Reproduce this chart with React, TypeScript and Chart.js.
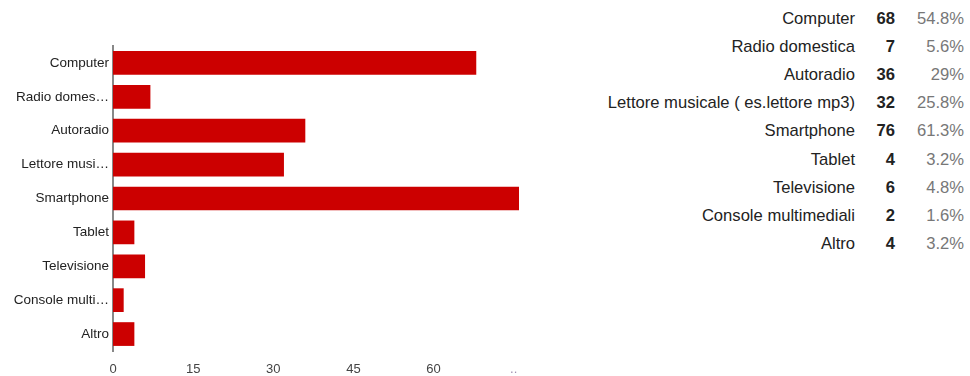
import React, { useEffect, useRef } from "react";
import { Chart, registerables } from "chart.js";

Chart.register(...registerables);

const fullLabels = [
  "Computer",
  "Radio domestica",
  "Autoradio",
  "Lettore musicale ( es.lettore mp3)",
  "Smartphone",
  "Tablet",
  "Televisione",
  "Console multimediali",
  "Altro",
];
const axisLabels = [
  "Computer",
  "Radio domes…",
  "Autoradio",
  "Lettore musi…",
  "Smartphone",
  "Tablet",
  "Televisione",
  "Console multi…",
  "Altro",
];
const counts = [68, 7, 36, 32, 76, 4, 6, 2, 4];
const percents = ["54.8%", "5.6%", "29%", "25.8%", "61.3%", "3.2%", "4.8%", "1.6%", "3.2%"];
const xTickValues = [0, 15, 30, 45, 60, 75];
const xTickLabels = ["0", "15", "30", "45", "60", ".."];

const FONT = "Arial, 'Liberation Sans', sans-serif";

export default function App() {
  const ref = useRef<HTMLCanvasElement>(null);

  useEffect(() => {
    if (!ref.current) return;
    const chart = new Chart(ref.current, {
      type: "bar",
      data: {
        labels: axisLabels,
        datasets: [
          {
            data: counts,
            backgroundColor: "#cc0000",
            borderWidth: 0,
            categoryPercentage: 0.7,
            barPercentage: 1,
          },
        ],
      },
      options: {
        indexAxis: "y",
        animation: false,
        responsive: false,
        maintainAspectRatio: false,
        layout: { padding: { left: 0, right: 21, top: 46, bottom: 0 } },
        plugins: { legend: { display: false }, tooltip: { enabled: false } },
        scales: {
          x: {
            type: "linear",
            min: 0,
            max: 76,
            afterBuildTicks: (scale: any) => {
              scale.ticks = xTickValues.map((v) => ({ value: v }));
            },
            afterFit: (scale: any) => {
              scale.height = 25;
            },
            grid: { display: false, drawTicks: false },
            border: { display: false },
            ticks: {
              padding: 11,
              autoSkip: false,
              maxRotation: 0,
              color: (ctx: any) => (ctx.index === xTickLabels.length - 1 ? "#a08fb0" : "#444"),
              font: { family: FONT, size: 13 },
              callback: (_v: any, i: number) => xTickLabels[i],
            },
          },
          y: {
            afterFit: (scale: any) => {
              scale.width = 113;
            },
            grid: { display: false, drawTicks: false },
            border: { display: true, color: "#888", width: 2 },
            ticks: {
              padding: 4,
              color: "#222",
              font: { family: FONT, size: 13.5 },
            },
          },
        },
      },
    });
    return () => chart.destroy();
  }, []);

  return (
    <div
      style={{
        position: "fixed",
        left: 0,
        top: 0,
        width: 970,
        height: 376,
        background: "#fff",
        fontFamily: FONT,
      }}
    >
      <canvas ref={ref} width={540} height={376} style={{ position: "absolute", left: 0, top: 0 }} />
      <div style={{ position: "absolute", left: 560, top: 5, width: 410 }}>
        {fullLabels.map((l, i) => (
          <div
            key={l}
            style={{
              position: "absolute",
              top: i * 28.1,
              left: 0,
              width: 410,
              height: 28,
              lineHeight: "28px",
              fontSize: 16.6,
            }}
          >
            <span style={{ position: "absolute", right: 115, color: "#222", whiteSpace: "nowrap" }}>{l}</span>
            <span style={{ position: "absolute", right: 75, color: "#222", fontWeight: "bold" }}>{counts[i]}</span>
            <span style={{ position: "absolute", right: 6, color: "#777" }}>{percents[i]}</span>
          </div>
        ))}
      </div>
    </div>
  );
}
